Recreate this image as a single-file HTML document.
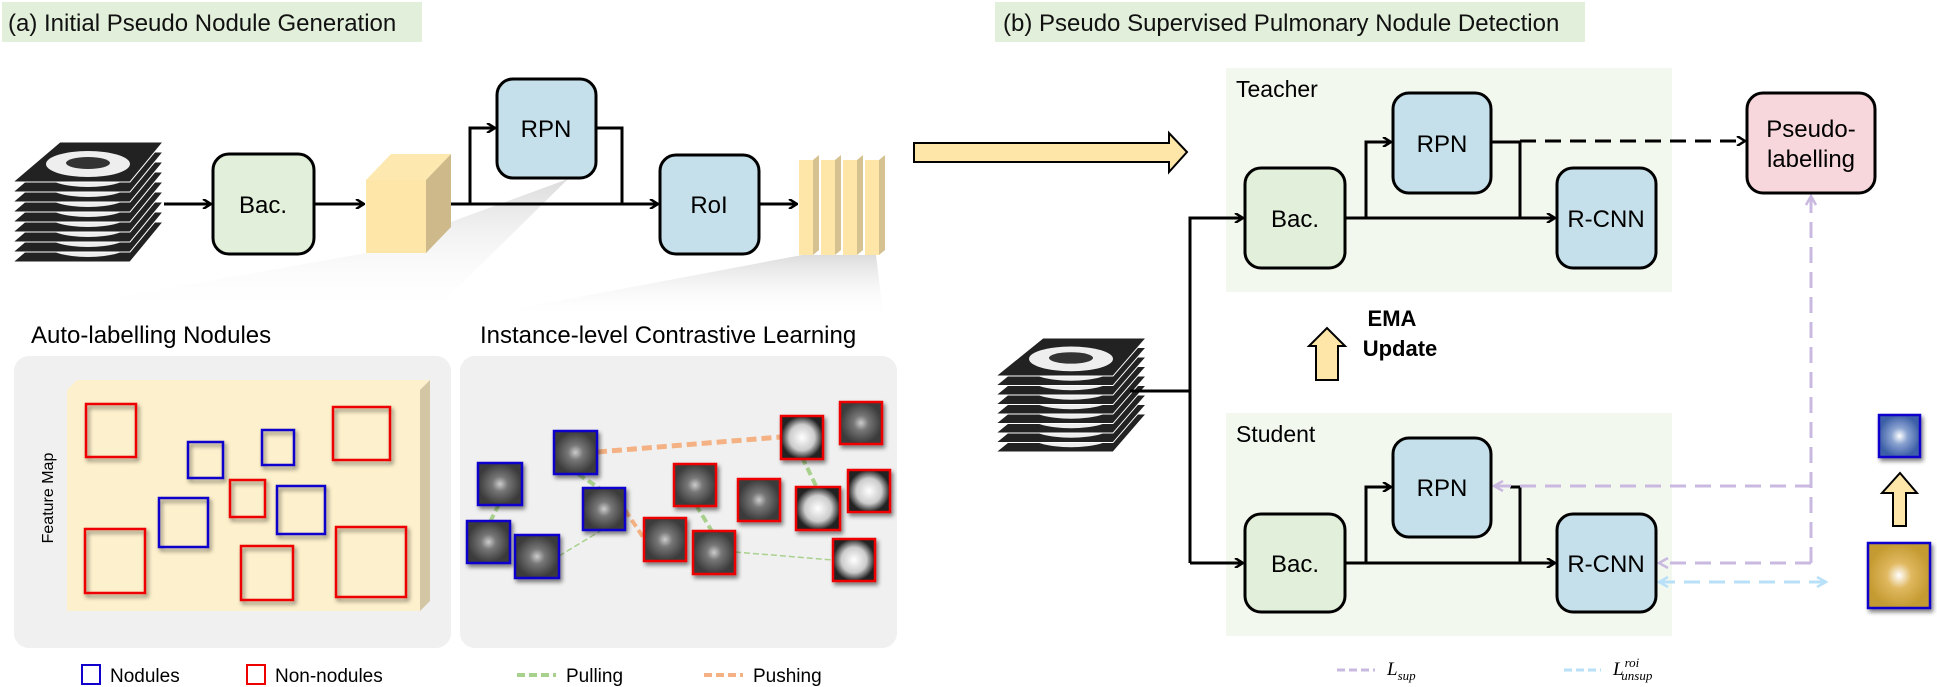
<!DOCTYPE html>
<html><head><meta charset="utf-8"><style>
html,body{margin:0;padding:0;background:#fff;}
svg{display:block;font-family:"Liberation Sans",Arial,sans-serif;}
</style></head><body>
<svg width="1937" height="687" viewBox="0 0 1937 687" xmlns="http://www.w3.org/2000/svg">
<defs>
<marker id="ah" markerWidth="10" markerHeight="10" refX="9" refY="5" orient="auto" markerUnits="userSpaceOnUse"><path d="M1,0 L9,5 L1,10" fill="none" stroke="#000" stroke-width="2.5"/></marker>
<marker id="ap" markerWidth="12" markerHeight="12" refX="10" refY="6" orient="auto" markerUnits="userSpaceOnUse"><path d="M1,1 L10,6 L1,11" fill="none" stroke="#c9b8e0" stroke-width="2.5"/></marker>
<marker id="ab" markerWidth="12" markerHeight="12" refX="10" refY="6" orient="auto-start-reverse" markerUnits="userSpaceOnUse"><path d="M1,1 L10,6 L1,11" fill="none" stroke="#b8e0f8" stroke-width="2.5"/></marker>
<linearGradient id="sh" x1="0" y1="0" x2="0" y2="1"><stop offset="0" stop-color="#dcdcdc"/><stop offset="1" stop-color="#fff" stop-opacity="0.2"/></linearGradient>
<radialGradient id="pg"><stop offset="0" stop-color="#ccc"/><stop offset="0.35" stop-color="#777"/><stop offset="1" stop-color="#3a3a3a"/></radialGradient>
<radialGradient id="pw"><stop offset="0" stop-color="#fff"/><stop offset="0.6" stop-color="#ccc"/><stop offset="1" stop-color="#222"/></radialGradient>
<radialGradient id="pb"><stop offset="0" stop-color="#fff"/><stop offset="0.4" stop-color="#8aa3d0"/><stop offset="1" stop-color="#3e5fa8"/></radialGradient>
<radialGradient id="py"><stop offset="0" stop-color="#fff"/><stop offset="0.4" stop-color="#e0b860"/><stop offset="1" stop-color="#c49a30"/></radialGradient>
<filter id="ds" x="-20%" y="-20%" width="150%" height="150%"><feGaussianBlur in="SourceAlpha" stdDeviation="2"/><feOffset dx="2" dy="3"/><feComponentTransfer><feFuncA type="linear" slope="0.5"/></feComponentTransfer><feMerge><feMergeNode/><feMergeNode in="SourceGraphic"/></feMerge></filter>
<g id="sl"><polygon points="47,0 150,0 117,40 0,40" fill="#222" stroke="#fff" stroke-width="1"/><ellipse cx="75" cy="22" rx="42" ry="13" fill="#eee"/><ellipse cx="75" cy="21" rx="22" ry="6" fill="#333"/></g>
</defs>

<rect x="2" y="2" width="420" height="40" fill="#e2efda"/>
<text x="8" y="31" font-size="24" fill="#111">(a) Initial Pseudo Nodule Generation</text>
<rect x="995" y="2" width="590" height="40" fill="#e2efda"/>
<text x="1003" y="31" font-size="24" fill="#111">(b) Pseudo Supervised Pulmonary Nodule Detection</text>

<polygon points="366,253 568,179 440,305 74,305" fill="url(#sh)"/>
<polygon points="802,255 876,255 883,313 494,313" fill="url(#sh)"/>

<g transform="translate(13,142)">
 <use href="#sl" y="80"/><use href="#sl" y="70"/><use href="#sl" y="60"/><use href="#sl" y="50"/><use href="#sl" y="40"/><use href="#sl" y="30"/><use href="#sl" y="20"/><use href="#sl" y="10"/><use href="#sl" y="0"/>
</g>
<g transform="translate(996,338) scale(1.0,0.95)">
 <use href="#sl" y="80"/><use href="#sl" y="70"/><use href="#sl" y="60"/><use href="#sl" y="50"/><use href="#sl" y="40"/><use href="#sl" y="30"/><use href="#sl" y="20"/><use href="#sl" y="10"/><use href="#sl" y="0"/>
</g>

<g stroke="#000" stroke-width="3" fill="none">
 <line x1="164" y1="204" x2="211" y2="204" marker-end="url(#ah)"/>
 <line x1="314" y1="204" x2="364" y2="204" marker-end="url(#ah)"/>
 <line x1="451" y1="204" x2="658" y2="204" marker-end="url(#ah)"/>
 <polyline points="470,204 470,128 495,128" marker-end="url(#ah)"/>
 <polyline points="596,128 622,128 622,204"/>
 <line x1="759" y1="204" x2="797" y2="204" marker-end="url(#ah)"/>
</g>

<rect x="213" y="154" width="101" height="100" rx="16" fill="#e2efda" stroke="#000" stroke-width="3"/>
<text x="263" y="213" font-size="24" text-anchor="middle">Bac.</text>
<rect x="497" y="79" width="99" height="99" rx="16" fill="#c5e0ea" stroke="#000" stroke-width="3"/>
<text x="546" y="137" font-size="24" text-anchor="middle">RPN</text>
<rect x="660" y="155" width="99" height="99" rx="16" fill="#c5e0ea" stroke="#000" stroke-width="3"/>
<text x="709" y="213" font-size="24" text-anchor="middle">RoI</text>

<polygon points="366,180 391,154 451,154 426,180" fill="#fde9b0"/>
<rect x="366" y="180" width="60" height="73" fill="#fde6a8"/>
<polygon points="426,180 451,154 451,227 426,253" fill="#cdb98a"/>
<g>
 <rect x="799" y="160" width="14" height="95" fill="#fde6a8"/><polygon points="813,160 819,155 819,250 813,255" fill="#d6c290"/>
 <rect x="821" y="160" width="14" height="95" fill="#fde6a8"/><polygon points="835,160 841,155 841,250 835,255" fill="#d6c290"/>
 <rect x="843" y="160" width="14" height="95" fill="#fde6a8"/><polygon points="857,160 863,155 863,250 857,255" fill="#d6c290"/>
 <rect x="865" y="160" width="14" height="95" fill="#fde6a8"/><polygon points="879,160 885,155 885,250 879,255" fill="#d6c290"/>
</g>

<text x="31" y="343" font-size="24">Auto-labelling Nodules</text>
<text x="480" y="343" font-size="24">Instance-level Contrastive Learning</text>

<rect x="14" y="356" width="437" height="292" rx="15" fill="#f0f0f0"/>
<polygon points="67,390 77,380 430,380 420,390" fill="#fdf0cc"/>
<rect x="67" y="390" width="353" height="221" fill="#fdf0cc"/>
<polygon points="420,390 430,380 430,601 420,611" fill="#d3c6a5"/>
<text transform="translate(53,498) rotate(-90)" font-size="16" text-anchor="middle">Feature Map</text>
<g fill="none" stroke-width="2.5" filter="url(#ds)">
 <rect x="86" y="404" width="50" height="53" stroke="#e00"/>
 <rect x="188" y="442" width="35" height="36" stroke="#10c"/>
 <rect x="262" y="430" width="32" height="35" stroke="#10c"/>
 <rect x="333" y="407" width="57" height="53" stroke="#e00"/>
 <rect x="230" y="480" width="35" height="37" stroke="#e00"/>
 <rect x="159" y="498" width="49" height="49" stroke="#10c"/>
 <rect x="277" y="486" width="48" height="48" stroke="#10c"/>
 <rect x="85" y="529" width="60" height="64" stroke="#e00"/>
 <rect x="241" y="546" width="52" height="54" stroke="#e00"/>
 <rect x="336" y="527" width="70" height="70" stroke="#e00"/>
</g>

<rect x="460" y="356" width="437" height="292" rx="15" fill="#f0f0f0"/>
<g fill="none">
 <line x1="597" y1="452" x2="781" y2="437" stroke="#f4b183" stroke-width="5" stroke-dasharray="10,5"/>
 <line x1="625" y1="510" x2="645" y2="540" stroke="#f4b183" stroke-width="4" stroke-dasharray="8,4"/>
 <line x1="499" y1="504" x2="490" y2="522" stroke="#a9d18e" stroke-width="4" stroke-dasharray="8,4"/>
 <line x1="578" y1="474" x2="602" y2="490" stroke="#a9d18e" stroke-width="4" stroke-dasharray="8,4"/>
 <line x1="559" y1="556" x2="602" y2="530" stroke="#a9d18e" stroke-width="1.5" stroke-dasharray="6,3"/>
 <line x1="696" y1="505" x2="713" y2="533" stroke="#a9d18e" stroke-width="4" stroke-dasharray="8,4"/>
 <line x1="735" y1="552" x2="833" y2="560" stroke="#a9d18e" stroke-width="1.5" stroke-dasharray="6,3"/>
 <line x1="802" y1="457" x2="818" y2="490" stroke="#a9d18e" stroke-width="4" stroke-dasharray="8,4"/>
</g>
<g stroke-width="2.5" filter="url(#ds)">
 <rect x="554" y="431" width="43" height="43" fill="url(#pg)" stroke="#10c"/>
 <rect x="478" y="463" width="44" height="42" fill="url(#pg)" stroke="#10c"/>
 <rect x="467" y="521" width="43" height="42" fill="url(#pg)" stroke="#10c"/>
 <rect x="515" y="535" width="44" height="43" fill="url(#pg)" stroke="#10c"/>
 <rect x="583" y="488" width="42" height="42" fill="url(#pg)" stroke="#10c"/>
 <rect x="644" y="518" width="42" height="43" fill="url(#pg)" stroke="#e00"/>
 <rect x="674" y="464" width="42" height="42" fill="url(#pg)" stroke="#e00"/>
 <rect x="693" y="531" width="42" height="43" fill="url(#pg)" stroke="#e00"/>
 <rect x="738" y="479" width="42" height="42" fill="url(#pg)" stroke="#e00"/>
 <rect x="781" y="416" width="42" height="43" fill="url(#pw)" stroke="#e00"/>
 <rect x="840" y="402" width="42" height="42" fill="url(#pg)" stroke="#e00"/>
 <rect x="796" y="487" width="44" height="43" fill="url(#pw)" stroke="#e00"/>
 <rect x="848" y="470" width="42" height="42" fill="url(#pw)" stroke="#e00"/>
 <rect x="833" y="539" width="42" height="42" fill="url(#pw)" stroke="#e00"/>
</g>

<rect x="82" y="665" width="18" height="19" fill="none" stroke="#10c" stroke-width="2"/>
<text x="110" y="682" font-size="19">Nodules</text>
<rect x="247" y="665" width="18" height="19" fill="none" stroke="#e00" stroke-width="2"/>
<text x="275" y="682" font-size="19">Non-nodules</text>
<line x1="517" y1="675" x2="556" y2="675" stroke="#a9d18e" stroke-width="4" stroke-dasharray="8,4"/>
<text x="566" y="682" font-size="19">Pulling</text>
<line x1="704" y1="675" x2="743" y2="675" stroke="#f4b183" stroke-width="4" stroke-dasharray="8,4"/>
<text x="753" y="682" font-size="19">Pushing</text>

<polygon points="914,143 1169,143 1169,133 1187,152 1169,172 1169,162 914,162" fill="#fde6a8" stroke="#000" stroke-width="2"/>

<rect x="1226" y="68" width="446" height="224" fill="#f3f8ef"/>
<text x="1236" y="97" font-size="23">Teacher</text>
<rect x="1226" y="413" width="446" height="223" fill="#f3f8ef"/>
<text x="1236" y="442" font-size="23">Student</text>

<g stroke="#000" stroke-width="3" fill="none">
 <polyline points="1130,391 1190,391"/>
 <polyline points="1190,563 1190,218 1243,218" marker-end="url(#ah)"/>
 <line x1="1190" y1="563" x2="1243" y2="563" marker-end="url(#ah)"/>
 <line x1="1345" y1="218" x2="1555" y2="218" marker-end="url(#ah)"/>
 <polyline points="1366,218 1366,142 1391,142" marker-end="url(#ah)"/>
 <polyline points="1491,142 1520,142 1520,218"/>
 <line x1="1345" y1="563" x2="1555" y2="563" marker-end="url(#ah)"/>
 <polyline points="1366,563 1366,487 1391,487" marker-end="url(#ah)"/>
 <polyline points="1510,487 1520,487 1520,563"/>
 <line x1="1520" y1="141" x2="1745" y2="141" stroke-dasharray="16,9" marker-end="url(#ah)"/>
</g>
<g stroke="#c9b8e0" stroke-width="3" fill="none" stroke-dasharray="16,9">
 <line x1="1811" y1="563" x2="1811" y2="196" marker-end="url(#ap)"/>
 <line x1="1811" y1="486" x2="1494" y2="486" marker-end="url(#ap)"/>
 <line x1="1811" y1="563" x2="1659" y2="563" marker-end="url(#ap)"/>
</g>
<line x1="1659" y1="582" x2="1826" y2="582" stroke="#b8e0f8" stroke-width="3" stroke-dasharray="16,9" marker-start="url(#ab)" marker-end="url(#ab)"/>

<rect x="1245" y="168" width="100" height="100" rx="16" fill="#e2efda" stroke="#000" stroke-width="3"/>
<text x="1295" y="227" font-size="24" text-anchor="middle">Bac.</text>
<rect x="1393" y="93" width="98" height="100" rx="16" fill="#c5e0ea" stroke="#000" stroke-width="3"/>
<text x="1442" y="152" font-size="24" text-anchor="middle">RPN</text>
<rect x="1557" y="168" width="99" height="100" rx="16" fill="#c5e0ea" stroke="#000" stroke-width="3"/>
<text x="1606" y="227" font-size="24" text-anchor="middle">R-CNN</text>
<rect x="1747" y="93" width="128" height="100" rx="16" fill="#f8d7dc" stroke="#000" stroke-width="3"/>
<text x="1811" y="137" font-size="24" text-anchor="middle">Pseudo-</text>
<text x="1811" y="167" font-size="24" text-anchor="middle">labelling</text>

<rect x="1245" y="514" width="100" height="98" rx="16" fill="#e2efda" stroke="#000" stroke-width="3"/>
<text x="1295" y="572" font-size="24" text-anchor="middle">Bac.</text>
<rect x="1393" y="438" width="98" height="99" rx="16" fill="#c5e0ea" stroke="#000" stroke-width="3"/>
<text x="1442" y="496" font-size="24" text-anchor="middle">RPN</text>
<rect x="1557" y="514" width="99" height="98" rx="16" fill="#c5e0ea" stroke="#000" stroke-width="3"/>
<text x="1606" y="572" font-size="24" text-anchor="middle">R-CNN</text>

<polygon points="1316,380 1316,346 1309,346 1327,328 1345,346 1338,346 1338,380" fill="#fde6a8" stroke="#000" stroke-width="2"/>
<text x="1392" y="326" font-size="22" font-weight="bold" text-anchor="middle">EMA</text>
<text x="1400" y="356" font-size="22" font-weight="bold" text-anchor="middle">Update</text>

<rect x="1879" y="415" width="41" height="42" fill="url(#pb)" stroke="#10c" stroke-width="2.5" filter="url(#ds)"/>
<polygon points="1893,526 1893,493 1882,493 1900,473 1917,493 1906,493 1906,526" fill="#fde6a8" stroke="#000" stroke-width="2"/>
<rect x="1868" y="543" width="62" height="65" fill="url(#py)" stroke="#10c" stroke-width="2.5" filter="url(#ds)"/>

<line x1="1337" y1="670" x2="1375" y2="670" stroke="#c9b8e0" stroke-width="3" stroke-dasharray="8,4"/>
<text x="1387" y="675" font-size="19" font-style="italic" font-family="Liberation Serif,serif">L<tspan font-size="13" dy="5">sup</tspan></text>
<line x1="1564" y1="670" x2="1601" y2="670" stroke="#b8e0f8" stroke-width="3" stroke-dasharray="8,4"/>
<text x="1613" y="675" font-size="19" font-style="italic" font-family="Liberation Serif,serif">L<tspan font-size="13" dx="1" dy="-8">roi</tspan><tspan font-size="13" dx="-18" dy="13">unsup</tspan></text>
</svg>
</body></html>
